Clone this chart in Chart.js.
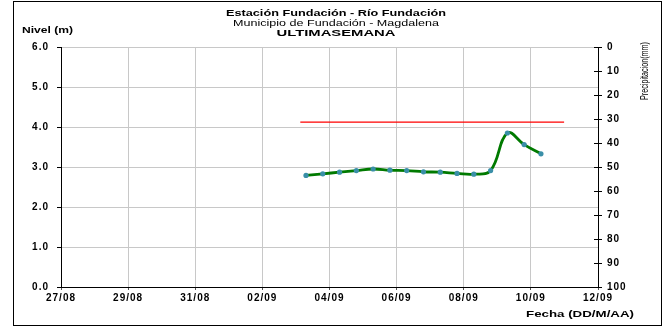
<!DOCTYPE html>
<html>
<head>
<meta charset="utf-8">
<script src="https://cdn.jsdelivr.net/npm/chart.js@4.4.1/dist/chart.umd.min.js"></script>
<style>
  html, body { margin: 0; padding: 0; background: #ffffff; }
  #wrap { width: 665px; height: 328px; position: relative; }
</style>
</head>
<body>
<div id="wrap"><canvas id="c" width="665" height="328"></canvas></div>
<script>
// ---- Data ----
const tickLabels = ['27/08', '29/08', '31/08', '02/09', '04/09', '06/09', '08/09', '10/09', '12/09'];
// days after 27/08 00:00 (readings every 12 h)
const dayOffsets = [7.3, 7.8, 8.3, 8.8, 9.3, 9.8, 10.3, 10.8, 11.3, 11.8, 12.3, 12.8, 13.3, 13.8, 14.3];
const nivel = [2.79, 2.83, 2.87, 2.91, 2.95, 2.92, 2.91, 2.88, 2.87, 2.84, 2.82, 2.91, 3.85, 3.56, 3.33];
const umbralDays = [7.13, 14.99];
const umbral = [4.12, 4.12];
const nivelTicks = [0, 1, 2, 3, 4, 5, 6];
const precipTicks = [0, 10, 20, 30, 40, 50, 60, 70, 80, 90, 100];

const titleLines = ['Estación Fundación - Río Fundación', 'Municipio de Fundación - Magdalena', 'ULTIMASEMANA'];

const FONT = '"Liberation Sans", Arial, sans-serif';
Chart.defaults.font.family = FONT;
Chart.defaults.font.size = 10;
Chart.defaults.font.weight = 'bold';
Chart.defaults.color = '#000000';

function stretchText(ctx, text, font, cx, baseline, width, align) {
  ctx.save();
  ctx.font = font;
  const w = ctx.measureText(text).width;
  const s = width / w;
  ctx.textBaseline = 'alphabetic';
  ctx.textAlign = 'left';
  let x0 = align === 'left' ? cx : cx - width / 2;
  ctx.translate(x0, baseline);
  ctx.scale(s, 1);
  ctx.fillText(text, 0, 0);
  ctx.restore();
}

const decor = {
  id: 'decor',
  beforeDraw(chart) {
    const ctx = chart.ctx;
    ctx.save();
    ctx.fillStyle = '#ffffff';
    ctx.fillRect(0, 0, chart.width, chart.height);
    ctx.restore();
    // slightly wider lettering for the axis tick labels
    ctx.letterSpacing = '1px';
  },
  beforeDatasetsDraw(chart) {
    chart.ctx.letterSpacing = '0px';
  },
  afterDraw(chart) {
    const ctx = chart.ctx;
    ctx.letterSpacing = '0px';
    ctx.save();
    ctx.fillStyle = '#000000';
    // titles
    stretchText(ctx, titleLines[0], 'bold 9.8px ' + FONT, 336, 16, 220);
    stretchText(ctx, titleLines[1], '9.8px ' + FONT, 336, 25.5, 206);
    stretchText(ctx, titleLines[2], 'bold 9.8px ' + FONT, 336, 36, 119);
    // axis titles
    stretchText(ctx, 'Nivel (m)', 'bold 9.8px ' + FONT, 22, 33, 51, 'left');
    stretchText(ctx, 'Fecha (DD/M/AA)', 'bold 9.8px ' + FONT, 526, 316.5, 108, 'left');
    // rotated right title (reads bottom to top)
    ctx.save();
    ctx.translate(648, 100);
    ctx.rotate(-Math.PI / 2);
    ctx.font = '11px ' + FONT;
    const t = 'Precipitacion(mm)';
    const w = ctx.measureText(t).width;
    ctx.scale(58 / w, 1);
    ctx.textBaseline = 'alphabetic';
    ctx.fillText(t, 0, 0);
    ctx.restore();
    // inward tick marks on right axis
    const y2 = chart.scales.y2;
    ctx.strokeStyle = '#000000';
    ctx.lineWidth = 1;
    ctx.beginPath();
    y2.ticks.forEach((tk, i) => {
      const py = Math.round(y2.getPixelForTick(i)) + 0.5;
      ctx.moveTo(y2.left - 4, py);
      ctx.lineTo(y2.left, py);
    });
    ctx.stroke();
    // outer frame
    ctx.strokeStyle = '#000000';
    ctx.lineWidth = 1;
    ctx.strokeRect(13.5, 1.5, 648, 324);
    ctx.restore();
  }
};

new Chart(document.getElementById('c'), {
  type: 'line',
  data: {
    datasets: [
      {
        label: 'Nivel',
        data: dayOffsets.map((d, i) => ({ x: d, y: nivel[i] })),
        borderColor: '#007a00',
        borderWidth: 2.8,
        tension: 0.4,
        pointRadius: 2.6,
        pointBackgroundColor: '#3a8fa8',
        pointBorderWidth: 0,
        yAxisID: 'y',
        order: 1
      },
      {
        label: 'Umbral',
        data: umbralDays.map((d, i) => ({ x: d, y: umbral[i] })),
        borderColor: '#ff0000',
        borderWidth: 1.3,
        pointRadius: 0,
        tension: 0,
        yAxisID: 'y',
        order: 2
      }
    ]
  },
  options: {
    responsive: false,
    animation: false,
    devicePixelRatio: 1,
    layout: { padding: { left: 0, right: 0, top: 47, bottom: 0 } },
    plugins: { legend: { display: false }, tooltip: { enabled: false }, title: { display: false } },
    scales: {
      x: {
        type: 'linear',
        min: 0, max: 16,
        afterFit(s) { s.height = 41; },
        afterBuildTicks(s) { s.ticks = tickLabels.map((_, i) => ({ value: i * 2 })); },
        ticks: {
          autoSkip: false, maxRotation: 0, padding: 2,
          callback: (v) => tickLabels[Math.round(v / 2)],
          font: { size: 10, weight: 'bold' }
        },
        grid: { color: '#c8c8c8', lineWidth: 1, tickLength: 3, tickColor: '#555555' },
        border: { color: '#000000', width: 1 }
      },
      y: {
        position: 'left',
        min: 0, max: 6,
        afterFit(s) { s.width = 61; },
        afterBuildTicks(s) { s.ticks = nivelTicks.map(v => ({ value: v })); },
        ticks: { padding: 8, callback: (v) => Number(v).toFixed(1), font: { size: 10, weight: 'bold' } },
        grid: { color: '#c8c8c8', lineWidth: 1, tickLength: 4, tickColor: '#000000' },
        border: { color: '#000000', width: 1 }
      },
      y2: {
        position: 'right',
        reverse: true,
        min: 0, max: 100,
        afterFit(s) { s.width = 67; },
        afterBuildTicks(s) { s.ticks = precipTicks.map(v => ({ value: v })); },
        ticks: { padding: 5, font: { size: 10, weight: 'bold' } },
        grid: { drawOnChartArea: false, tickLength: 4, tickColor: '#000000' },
        border: { color: '#000000', width: 1 }
      }
    }
  },
  plugins: [decor]
});
</script>
</body>
</html>
